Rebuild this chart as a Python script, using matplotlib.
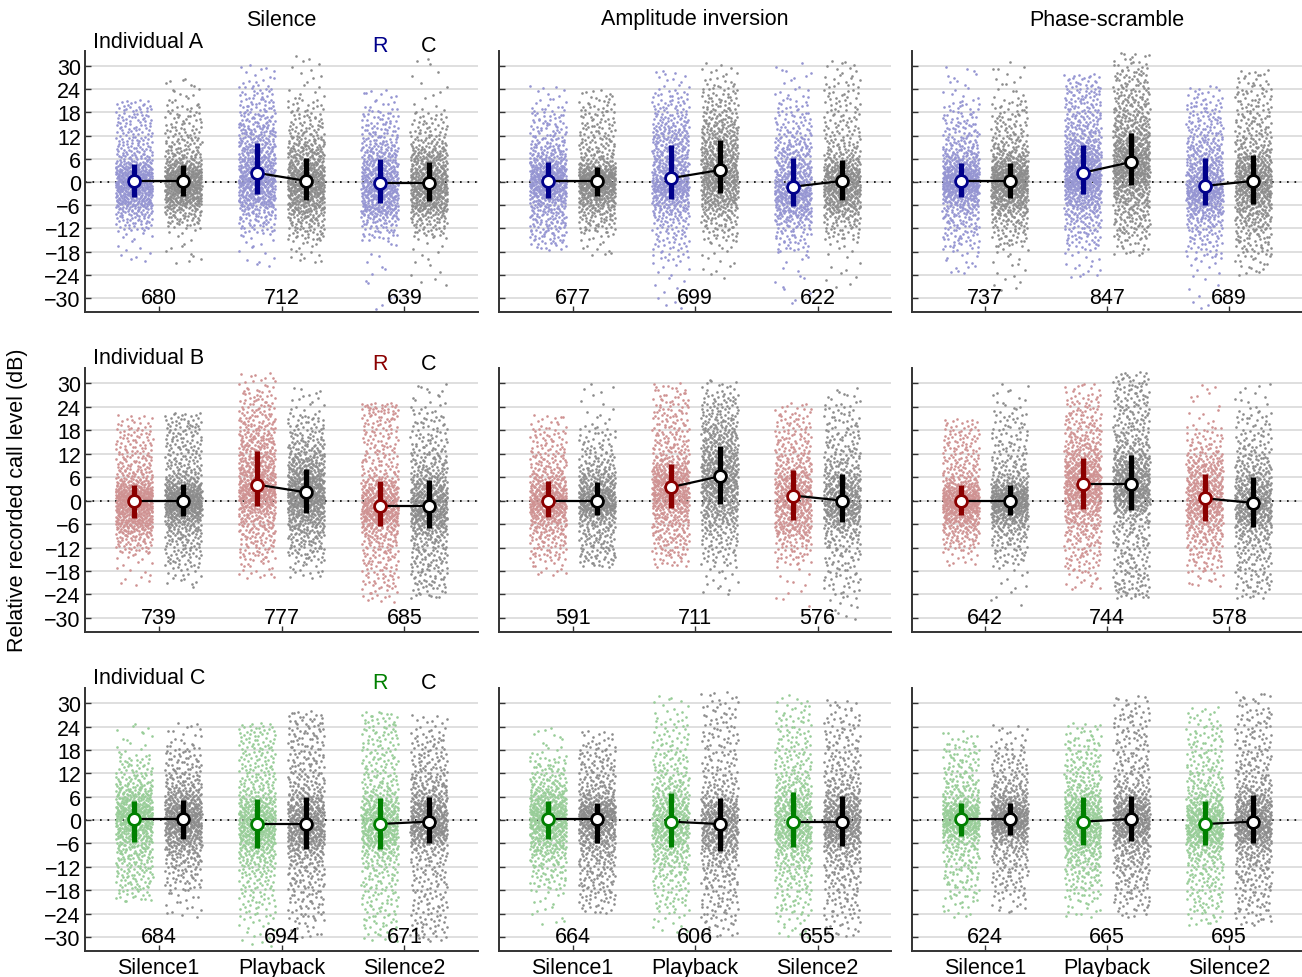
import numpy as np
import matplotlib
matplotlib.use("Agg")
import matplotlib.pyplot as plt

plt.rcParams['font.family'] = ['Liberation Sans', 'DejaVu Sans']

# ---------------- data ----------------
individuals = ["Individual A", "Individual B", "Individual C"]
panel_titles = ["Silence", "Amplitude inversion", "Phase-scramble"]
conditions = ["Silence1", "Playback", "Silence2"]
yticks = [-30, -24, -18, -12, -6, 0, 6, 12, 18, 24, 30]

# counts per condition  [individual][panel][condition]
counts = [
    [[680, 712, 639], [677, 699, 622], [737, 847, 689]],
    [[739, 777, 685], [591, 711, 576], [642, 744, 578]],
    [[684, 694, 671], [664, 606, 655], [624, 665, 695]],
]

# each inner list: [S1-R, S1-C, PB-R, PB-C, S2-R, S2-C]
medians = [
    [[0.3, 0.3, 2.4, 0.3, -0.3, -0.3], [0.3, 0.3, 1.0, 3.1, -1.2, 0.3], [0.3, 0.3, 2.4, 5.2, -1.0, 0.3]],
    [[0.0, 0.0, 4.1, 2.1, -1.3, -1.3], [0.0, 0.0, 3.4, 6.2, 1.3, 0.0], [0.0, 0.0, 4.3, 4.3, 0.6, -0.6]],
    [[0.3, 0.3, -1.0, -1.0, -1.0, -0.4], [0.3, 0.3, -0.4, -1.0, -0.4, -0.4], [0.3, 0.3, -0.4, 0.3, -1.0, -0.4]],
]
q_low = [
    [[-3.9, -3.5, -3.0, -4.7, -5.5, -4.9], [-4.2, -3.5, -4.3, -2.9, -6.2, -4.6], [-3.8, -4.2, -3.0, -0.8, -5.8, -5.7]],
    [[-4.5, -3.9, -1.5, -3.2, -6.4, -6.9], [-4.3, -3.7, -1.9, -0.9, -5.0, -5.6], [-3.6, -3.6, -2.1, -2.4, -5.1, -6.7]],
    [[-5.5, -4.8, -7.2, -7.3, -7.3, -5.9], [-4.9, -5.9, -6.9, -8.0, -6.9, -6.7], [-4.1, -3.7, -6.3, -5.4, -6.3, -6.0]],
]
q_high = [
    [[4.75, 4.4, 10.2, 6.3, 6.0, 5.3], [5.2, 4.0, 9.5, 10.9, 6.2, 5.6], [5.0, 5.0, 9.5, 12.8, 6.3, 6.9]],
    [[4.0, 4.3, 12.8, 8.0, 5.1, 5.2], [5.0, 4.7, 9.4, 13.9, 7.9, 6.7], [4.1, 4.0, 10.9, 11.7, 6.9, 6.0]],
    [[4.9, 5.2, 5.4, 6.0, 5.7, 5.8], [4.9, 4.5, 6.9, 5.6, 7.2, 6.3], [4.3, 4.5, 5.8, 6.2, 5.0, 6.5]],
]
# extent of the dense part of each cloud
body_low = [
    [[-12.3, -11.4, -13.0, -14.9, -14.9, -14.0], [-14.9, -13.0, -20.0, -15.0, -18.0, -15.0], [-17.0, -16.6, -16.6, -14.4, -20.0, -19.0]],
    [[-13.3, -16.7, -15.0, -15.0, -21.9, -21.9], [-15.0, -15.0, -14.0, -16.0, -16.0, -23.6], [-12.4, -16.0, -17.6, -22.7, -17.6, -22.0]],
    [[-18.0, -18.0, -25.0, -25.0, -27.0, -28.0], [-18.0, -20.7, -23.0, -26.0, -24.0, -25.0], [-20.0, -19.0, -20.0, -21.0, -23.0, -23.0]],
]
body_high = [
    [[19.0, 20.1, 24.5, 21.4, 18.8, 18.0], [18.8, 20.0, 23.0, 25.0, 22.0, 26.0], [20.5, 21.0, 25.0, 29.0, 21.0, 25.0]],
    [[18.4, 20.0, 27.8, 21.8, 23.6, 22.7], [18.4, 19.0, 26.5, 27.0, 22.0, 24.0], [18.4, 22.7, 26.0, 30.0, 19.0, 22.7]],
    [[16.4, 19.0, 22.5, 25.0, 25.0, 22.0], [16.4, 19.0, 26.0, 28.5, 27.0, 26.0], [19.0, 19.0, 21.0, 27.7, 24.0, 28.0]],
]
# extreme points of each cloud
out_low = [
    [[-21.0, -21.3, -21.8, -21.0, -33.0, -27.0], [-17.5, -19.0, -33.0, -25.0, -32.0, -28.0], [-24.0, -28.0, -25.0, -19.0, -33.0, -24.0]],
    [[-22.0, -22.0, -20.0, -20.0, -26.0, -25.0], [-19.0, -17.0, -17.0, -24.0, -27.0, -31.0], [-17.0, -27.0, -23.0, -25.0, -22.0, -25.0]],
    [[-21.0, -25.0, -33.0, -30.0, -31.0, -31.0], [-27.0, -24.0, -29.0, -30.0, -30.0, -30.0], [-25.0, -24.0, -25.0, -25.0, -27.0, -27.0]],
]
out_high = [
    [[21.4, 27.0, 30.5, 33.0, 24.0, 32.6], [25.0, 24.0, 29.0, 31.0, 31.0, 32.0], [30.0, 31.0, 28.0, 33.5, 25.0, 29.0]],
    [[22.0, 22.5, 33.0, 29.0, 25.0, 30.0], [22.0, 30.0, 30.0, 31.0, 25.0, 29.0], [21.0, 30.0, 30.0, 33.0, 30.0, 30.0]],
    [[25.0, 25.0, 25.0, 28.0, 28.0, 27.0], [24.0, 23.0, 32.0, 33.0, 32.0, 31.0], [23.0, 25.0, 25.0, 32.0, 29.0, 33.0]],
]

dark_colors = ["#00008b", "#8b0000", "#008000"]
light_colors = ["#9595d2", "#cf9292", "#98cd98"]
gray_cloud = "#8c8c8c"

FS = 15.5

# ---------------- layout ----------------
W, H = 1302, 978
fig = plt.figure(figsize=(W / 100, H / 100), dpi=100)
col_px = [(85, 478), (499, 891), (912, 1302)]
row_px = [(52, 313), (369, 633), (689, 952)]

probs = np.array([0.0, 0.025, 0.25, 0.5, 0.75, 0.975, 1.0])


def radical_inverse(idx, base):
    idx = np.asarray(idx, dtype=np.int64).copy()
    out = np.zeros(idx.shape)
    f = 1.0 / base
    while np.any(idx > 0):
        out += f * (idx % base)
        idx //= base
        f /= base
    return out


def monotone_quantile(p, xk, yk):
    """Fritsch-Carlson monotone cubic through the read quantiles."""
    yk = np.asarray(yk, float)
    h = np.diff(xk)
    d = np.diff(yk) / h
    m = np.zeros_like(yk)
    m[0], m[-1] = d[0], d[-1]
    for i in range(1, len(yk) - 1):
        if d[i - 1] * d[i] <= 0:
            m[i] = 0.0
        else:
            w1 = 2 * h[i] + h[i - 1]
            w2 = h[i] + 2 * h[i - 1]
            m[i] = (w1 + w2) / (w1 / d[i - 1] + w2 / d[i])
    i = np.clip(np.searchsorted(xk, p) - 1, 0, len(h) - 1)
    t = (p - xk[i]) / h[i]
    h00 = 2 * t**3 - 3 * t**2 + 1
    h10 = t**3 - 2 * t**2 + t
    h01 = -2 * t**3 + 3 * t**2
    h11 = t**3 - t**2
    return h00 * yk[i] + h10 * h[i] * m[i] + h01 * yk[i + 1] + h11 * h[i] * m[i + 1]


cloud_counter = [0]


def cloud(ax, xc, n, quants, color):
    start = 37 + 997 * cloud_counter[0]
    cloud_counter[0] += 1
    k = np.arange(start, start + n)
    u = radical_inverse(k, 2)
    p = radical_inverse(k, 3)
    y = monotone_quantile(p, probs, quants)
    x = xc + (u - 0.5) * 0.30
    ax.scatter(x, y, s=3.6, c=color, linewidths=0, zorder=1)


for r in range(3):
    for c in range(3):
        x0, x1 = col_px[c]
        y0, y1 = row_px[r]
        ax = fig.add_axes([x0 / W, 1 - y1 / H, (x1 - x0) / W, (y1 - y0) / H])
        ax.set_xlim(-0.6, 2.6)
        ax.set_ylim(-33.6, 33.9)
        for yt in yticks:
            ax.axhline(yt, color="#dcdcdc", lw=1.3, zorder=0)
        ax.axhline(0, color="black", lw=1.2, ls=(0, (1, 3.5)), zorder=0.5)

        for g in range(3):
            iR, iC = 2 * g, 2 * g + 1
            xs = [g - 0.2, g + 0.2]
            for j, idx in enumerate([iR, iC]):
                qs = [out_low[r][c][idx], body_low[r][c][idx], q_low[r][c][idx],
                      medians[r][c][idx], q_high[r][c][idx], body_high[r][c][idx],
                      out_high[r][c][idx]]
                cloud(ax, xs[j], counts[r][c][g], qs,
                      light_colors[r] if j == 0 else gray_cloud)
            ax.plot(xs, [medians[r][c][iR], medians[r][c][iC]], color="black", lw=1.6, zorder=3)
            for j, idx in enumerate([iR, iC]):
                col = dark_colors[r] if j == 0 else "black"
                ax.vlines(xs[j], q_low[r][c][idx], q_high[r][c][idx], color=col, lw=3.8, zorder=4)
                ax.plot(xs[j], medians[r][c][idx], "o", mfc="white", mec=col, mew=2.0,
                        ms=8.5, zorder=5)
            ax.text(g, -29.8, str(counts[r][c][g]), ha="center", va="center", fontsize=FS, zorder=6)

        for s in ["top", "right"]:
            ax.spines[s].set_visible(False)
        ax.spines["left"].set_linewidth(1.4)
        ax.spines["left"].set_color("#333333")
        ax.spines["bottom"].set_linewidth(1.4)
        ax.spines["bottom"].set_color("#333333")
        ax.set_yticks(yticks)
        ax.set_xticks([0, 1, 2])
        ax.tick_params(axis="both", direction="in", length=4, width=1.0, color="#333333",
                       labelsize=FS, pad=3)
        if c == 0:
            ax.set_yticklabels([str(t) if t >= 0 else "\u2212" + str(-t) for t in yticks])
        else:
            ax.set_yticklabels([])
        if r == 2:
            ax.set_xticklabels(conditions, fontsize=FS)
            ax.tick_params(axis="x", pad=4)
        else:
            ax.set_xticklabels([])

        if c == 0:
            ax.text(0.02, 1 + 10 / (y1 - y0), individuals[r], transform=ax.transAxes,
                    ha="left", va="center", fontsize=FS)
            tr = ax.get_xaxis_transform()
            ax.text(1.8, 1 + 5 / (y1 - y0), "R", transform=tr, ha="center", va="center",
                    fontsize=FS, color=dark_colors[r])
            ax.text(2.2, 1 + 5 / (y1 - y0), "C", transform=tr, ha="center", va="center",
                    fontsize=FS, color="black")

        if r == 0:
            fig.text((x0 + x1) / 2 / W, 1 - 20 / H, panel_titles[c], ha="center", va="center",
                     fontsize=FS)

fig.text(18 / W, 1 - 500 / H, "Relative recorded call level (dB)", rotation=90,
         ha="center", va="center", fontsize=FS)

fig.savefig("out.png", dpi=100)
